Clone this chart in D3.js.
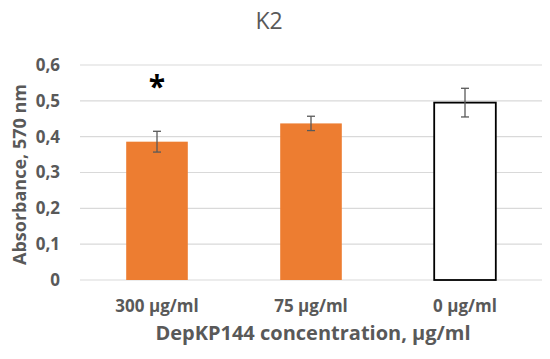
<!DOCTYPE html>
<html>
<head>
<meta charset="utf-8">
<script src="https://cdn.jsdelivr.net/npm/d3@7"></script>
<style>
  body { margin: 0; background: #fff; }
  text { font-family: "Open Sans", "Lato", sans-serif; }
</style>
</head>
<body>
<div id="chart"></div>
<script>
const categories = ['300 µg/ml', '75 µg/ml', '0 µg/ml'];
const values = [0.386, 0.437, 0.495];
const errors = [0.029, 0.02, 0.04];
const fills = ['#ED7D31', '#ED7D31', '#ffffff'];
const significance = ['*', '', ''];
const yTicks = [0, 0.1, 0.2, 0.3, 0.4, 0.5, 0.6];

const width = 550, height = 359;
const margin = { top: 65, right: 8, bottom: 79, left: 80 };

const svg = d3.select('#chart').append('svg')
    .attr('width', width)
    .attr('height', height);

const x = d3.scaleBand()
    .domain(categories)
    .range([margin.left, width - margin.right])
    .paddingInner(0.6)
    .paddingOuter(0.3);

const y = d3.scaleLinear()
    .domain([0, 0.6])
    .range([height - margin.bottom, margin.top]);

const fmt = d => d === 0 ? '0' : d3.format('.1f')(d).replace('.', ',');

// gridlines
svg.append('g')
    .selectAll('line')
    .data(yTicks)
    .join('line')
    .attr('x1', margin.left)
    .attr('x2', width - margin.right)
    .attr('y1', d => y(d))
    .attr('y2', d => y(d))
    .attr('stroke', '#d9d9d9')
    .attr('stroke-width', 1.2);

// y axis labels
svg.append('g')
    .attr('transform', `translate(${margin.left - 17},0)`)
    .call(d3.axisLeft(y).tickValues(yTicks).tickFormat(fmt).tickSize(0))
    .call(g => g.select('.domain').remove())
    .call(g => g.selectAll('text')
        .attr('fill', '#595959')
        .attr('font-size', '17px')
        .attr('font-weight', 'bold'));

// bars
svg.append('g')
    .selectAll('rect')
    .data(values)
    .join('rect')
    .attr('x', (d, i) => x(categories[i]))
    .attr('width', x.bandwidth())
    .attr('y', d => y(d))
    .attr('height', d => y(0) - y(d))
    .attr('fill', (d, i) => fills[i])
    .attr('stroke', (d, i) => fills[i] === '#ffffff' ? '#000' : 'none')
    .attr('stroke-width', 1.8);

// error bars
const eb = svg.append('g').attr('stroke', '#595959').attr('stroke-width', 1.3);
values.forEach((v, i) => {
    const cx = x(categories[i]) + x.bandwidth() / 2;
    eb.append('line').attr('x1', cx).attr('x2', cx)
        .attr('y1', y(v + errors[i])).attr('y2', y(v - errors[i]));
    [v + errors[i], v - errors[i]].forEach(e => {
        eb.append('line').attr('x1', cx - 4).attr('x2', cx + 4)
            .attr('y1', y(e)).attr('y2', y(e));
    });
});

// significance markers
svg.append('g')
    .selectAll('text')
    .data(significance)
    .join('text')
    .attr('x', (d, i) => x(categories[i]) + x.bandwidth() / 2)
    .attr('y', y(0.512))
    .attr('text-anchor', 'middle')
    .attr('font-size', '30px')
    .attr('font-weight', 'bold')
    .attr('fill', '#000')
    .text(d => d);

// x axis labels
svg.append('g')
    .attr('transform', `translate(0,${y(0) + 17})`)
    .call(d3.axisBottom(x).tickSize(0))
    .call(g => g.select('.domain').remove())
    .call(g => g.selectAll('text')
        .attr('fill', '#595959')
        .attr('font-size', '17px')
        .attr('font-weight', 'bold'));

// x title
svg.append('text')
    .attr('x', (margin.left + width - margin.right) / 2 + 2)
    .attr('y', 340)
    .attr('text-anchor', 'middle')
    .attr('fill', '#595959')
    .attr('font-size', '20px')
    .attr('font-weight', 'bold')
    .text('DepKP144 concentration, µg/ml');

// y title
svg.append('text')
    .attr('transform', `translate(26,${(y(0) + y(0.6)) / 2 + 2}) rotate(-90)`)
    .attr('text-anchor', 'middle')
    .attr('fill', '#595959')
    .attr('font-size', '18px')
    .attr('font-weight', 'bold')
    .text('Absorbance, 570 nm');

// title
svg.append('text')
    .attr('x', 269)
    .attr('y', 29)
    .attr('text-anchor', 'middle')
    .attr('fill', '#595959')
    .attr('font-size', '23px')
    .text('K2');
</script>
</body>
</html>
